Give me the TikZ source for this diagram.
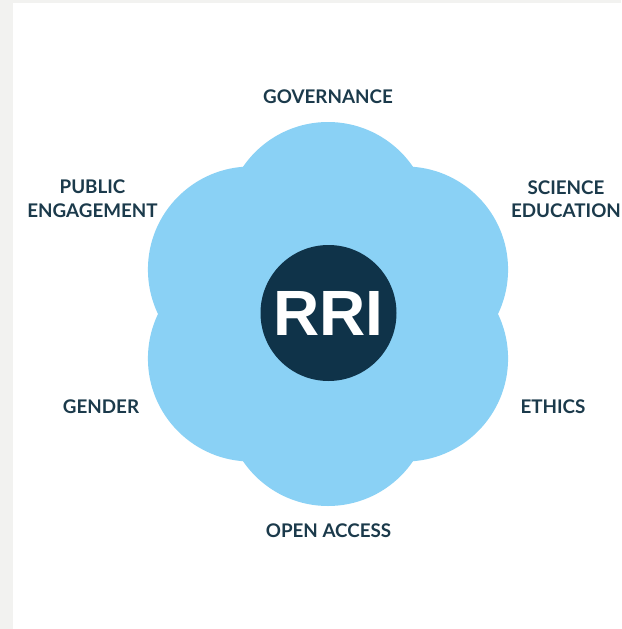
\documentclass[tikz,border=0pt]{standalone}
\usepackage{fontspec}
\newfontfamily\labelfont{Lato}
\newfontfamily\rrifont{Liberation Sans}
\definecolor{bggray}{HTML}{F2F2F0}
\definecolor{petal}{HTML}{8AD1F5}
\definecolor{core}{HTML}{0F3349}
\definecolor{labelcol}{HTML}{1B3A4B}
\tikzset{
  lbl/.style={font=\labelfont\bfseries\fontsize{18.8}{23.5}\selectfont, text=labelcol, align=center, inner sep=0pt},
  corebox/.style={circle, fill=core, minimum size=136pt, inner sep=0pt, text=white, font=\rrifont\bfseries\fontsize{64}{64}\selectfont}
}
\begin{document}
\begin{tikzpicture}[x=1pt,y=-1pt]
\useasboundingbox (0,0) rectangle (621,629);
\fill[bggray] (0,0) rectangle (621,629);
\fill[white] (13,3) rectangle (621,629);
\foreach \a in {90,30,-30,-90,-150,150}{
  \fill[petal] (328,314) ++(\a:89) circle[radius=103];
}
\node[corebox] (rri) at (328.5,313) {RRI};
\node[lbl] (gov) at (328,96.5) {GOVERNANCE};
\node[lbl] (pub) at (92.5,198.5) {PUBLIC\\ENGAGEMENT};
\node[lbl] (sci) at (566,199) {SCIENCE\\EDUCATION};
\node[lbl] (gen) at (101,407) {GENDER};
\node[lbl] (eth) at (553,407) {ETHICS};
\node[lbl] (oa) at (328.5,531) {OPEN ACCESS};
\end{tikzpicture}
\end{document}
